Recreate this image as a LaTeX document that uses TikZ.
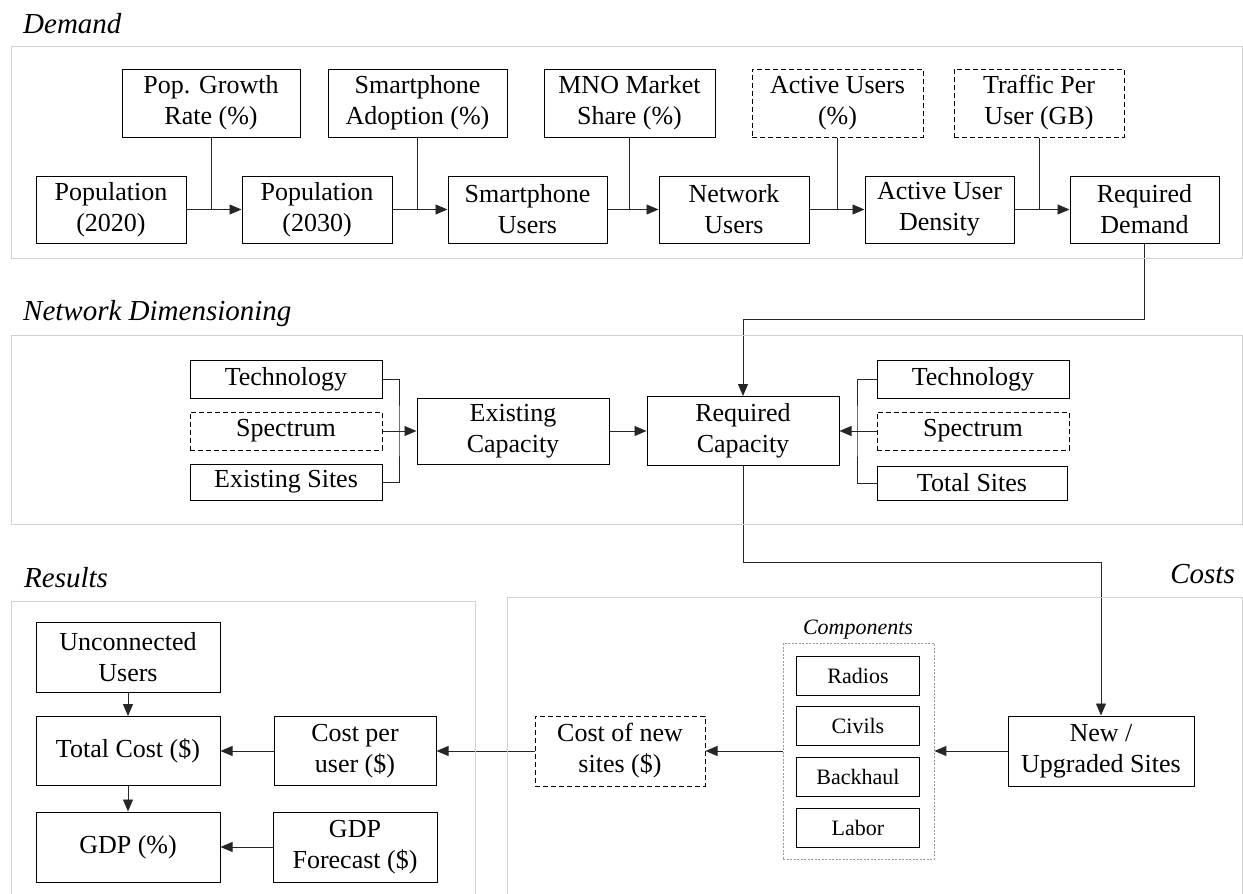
\documentclass[tikz,border=0pt]{standalone}
\usepackage{fontspec}
\setmainfont{Liberation Serif}
\usetikzlibrary{arrows.meta}
\pgfdeclarelayer{bg}
\pgfsetlayers{bg,main}
\tikzset{
    every node/.style={rectangle, inner sep=0mm, align=center, font=\fontsize{26pt}{31pt}\selectfont}
}
\tikzset{
    blk/.style={draw, fill=white, line width=1pt},
    dims/.style 2 args={minimum width=#1pt, minimum height=#2pt},
    guess/.style={dash pattern=on 5pt off 3pt},
    heading/.style={font=\fontsize{29pt}{34pt}\selectfont\itshape},
    subheading/.style={font=\fontsize{22pt}{26pt}\selectfont\itshape},
    compbox/.style={blk, dims={123}{39}, font=\fontsize{22pt}{26pt}\selectfont},
    group/.style={draw=black!40, line width=0.8pt, dash pattern=on 2pt off 1.5pt},
    panel/.style={draw=black!18, line width=1pt},
    feed/.style={draw=black!85, line width=0.9pt},
    arr/.style={feed, -{Triangle[length=12pt, width=10pt]}}
}

\begin{document}
\begin{tikzpicture}[x=1pt, y=-1pt]
    \useasboundingbox (0,0) rectangle (1243,894);

    \draw[panel] (11,46) rectangle (1242,258);
    \draw[panel] (11,335) rectangle (1242,524);
    \draw[panel] (11,900) |- (475,601) -- (475,900);
    \draw[panel] (507,900) |- (1242,597) -- (1242,900);

    \node (tdem) [heading, anchor=base west] at (23,33) {Demand};
    \node (tnet) [heading, anchor=base west] at (23,320) {Network Dimensioning};
    \node (tres) [heading, anchor=base west] at (24,587) {Results};
    \node (tcost) [heading, anchor=base east] at (1235,583) {Costs};

    % demand
    \node (pop20) [blk, dims={150}{67}] at (111,209.5) {Population\\(2020)};
    \node (pop30) [blk, dims={150}{67}] at (317,209.5) {Population\\(2030)};
    \node (smart) [blk, dims={159}{67}] at (527.5,209.5) {Smartphone\\Users};
    \node (netusers) [blk, dims={150}{67}] at (734,209.5) {Network\\Users};
    \node (density) [blk, dims={149}{67}] at (939.5,209.5) {Active User\\Density};
    \node (reqdem) [blk, dims={149}{67}] at (1144.5,209.5) {Required\\Demand};

    \node (growth) [blk, dims={178}{68}] at (211,103) {Pop. Growth\\Rate (\%)};
    \node (adopt) [blk, dims={179}{68}] at (417.5,103) {Smartphone\\Adoption (\%)};
    \node (share) [blk, dims={171}{68}] at (629.5,103) {MNO Market\\Share (\%)};
    \node (active) [blk, guess, dims={171}{68}] at (837.5,103) {Active Users\\(\%)};
    \node (traffic) [blk, guess, dims={170}{68}] at (1039,103) {Traffic Per\\User (GB)};

    % network dimensioning
    \node (tech1) [blk, dims={192}{38}] at (286,379) {Technology};
    \node (spec1) [blk, guess, dims={192}{38}] at (286,431) {Spectrum};
    \node (sites1) [blk, dims={192}{36}] at (286,482) {Existing Sites};
    \node (excap) [blk, dims={192}{66}] at (513,431) {Existing\\Capacity};
    \node (reqcap) [blk, dims={192}{69}] at (743,431) {Required\\Capacity};
    \node (tech2) [blk, dims={192}{38}] at (973,379) {Technology};
    \node (spec2) [blk, guess, dims={192}{38}] at (973,431) {Spectrum};
    \node (sites2) [blk, dims={190}{34}] at (972,483) {Total Sites};
    \coordinate (joinL) at (399,431);
    \coordinate (joinR) at (857,431);

    % costs
    \node (newsites) [blk, dims={186}{70}] at (1101,751) {New /\\Upgraded Sites};
    \node (parts) [group, dims={151}{216}] at (858.5,751) {};
    \node (partslbl) [subheading] at (858,630) {Components};
    \node (radios) [compbox] at (858,675.5) {Radios};
    \node (civils) [compbox] at (858,726) {Civils};
    \node (backhaul) [compbox] at (858,777) {Backhaul};
    \node (labor) [compbox] at (858,827.5) {Labor};
    \node (costnew) [blk, guess, dims={170}{70}] at (620,751) {Cost of new\\sites (\$)};

    % results
    \node (costuser) [blk, dims={162}{69}] at (355,751) {Cost per\\user (\$)};
    \node (forecast) [blk, dims={164}{70}] at (355,847) {GDP\\Forecast (\$)};
    \node (unconn) [blk, dims={184}{70}] at (128,657) {Unconnected\\Users};
    \node (total) [blk, dims={184}{69}] at (128,751) {Total Cost (\$)};
    \node (gdp) [blk, dims={184}{70}] at (128,847) {GDP (\%)};

    \begin{pgfonlayer}{bg}
        \draw[arr] (pop20) -- (pop30);
        \draw[arr] (pop30) -- (smart);
        \draw[arr] (smart) -- (netusers);
        \draw[arr] (netusers) -- (density);
        \draw[arr] (density) -- (reqdem);
        \draw[feed] (growth) -- (growth |- pop20);
        \draw[feed] (adopt) -- (adopt |- pop30);
        \draw[feed] (share) -- (share |- smart);
        \draw[feed] (active) -- (active |- netusers);
        \draw[feed] (traffic) -- (traffic |- density);

        \draw[arr] (reqdem.south) -- ++(0,76) -| (reqcap.north);
        \draw[feed] (tech1) -| (joinL) |- (sites1);
        \draw[arr] (spec1) -- (excap);
        \draw[arr] (excap) -- (reqcap);
        \draw[feed] (tech2) -| (joinR) |- (sites2);
        \draw[arr] (spec2) -- (reqcap);

        \draw[arr] (reqcap.south) -- ++(0,96) -| (newsites.north);
        \draw[arr] (newsites) -- (parts);
        \draw[arr] (parts) -- (costnew);
        \draw[arr] (costnew) -- (costuser);
        \draw[arr] (costuser) -- (total);
        \draw[arr] (unconn) -- (total);
        \draw[arr] (total) -- (gdp);
        \draw[arr] (forecast) -- (gdp);
    \end{pgfonlayer}
\end{tikzpicture}
\end{document}
